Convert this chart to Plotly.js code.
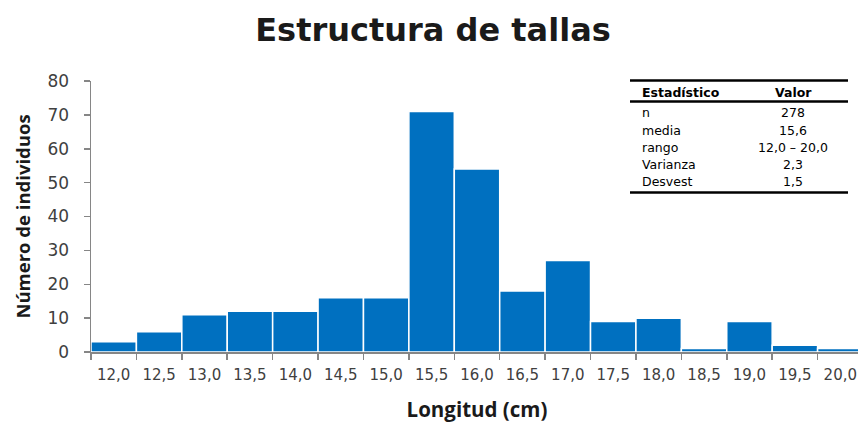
<!DOCTYPE html>
<html>
<head>
<meta charset="utf-8">
<script src="https://cdn.plot.ly/plotly-3.0.1.min.js"></script>
<style>
html,body{margin:0;padding:0;overflow:hidden;background:#fff;}
#chart{width:866px;height:423px;}
</style>
</head>
<body>
<div id="chart"></div>
<script>
// Data
var lengthClasses = ["12,0","12,5","13,0","13,5","14,0","14,5","15,0","15,5","16,0","16,5","17,0","17,5","18,0","18,5","19,0","19,5","20,0"];
var counts = [3, 6, 11, 12, 12, 16, 16, 71, 54, 18, 27, 9, 10, 1, 9, 2, 1];
var statHeaders = ["Estadístico", "Valor"];
var statNames = ["n", "media", "rango", "Varianza", "Desvest"];
var statValues = ["278", "15,6", "12,0 – 20,0", "2,3", "1,5"];

var W = 866, H = 423;
var mL = 91, mR = 3, mT = 81, mB = 71;
var plotW = W - mL - mR, plotH = H - mT - mB;
function px(x){ return (x - mL) / plotW; }
function py(y){ return (H - mB - y) / plotH; }

var tableFont = {family: "DejaVu Sans, sans-serif", size: 12.5, color: "#000"};
var annotations = [];
var shapes = [];
var tX0 = 630, tX1 = 848, col1X = 641, col2X = 793;
var headerY = 92, rowY0 = 113, rowStep = 17;

function addCell(x, y, anchor, txt) {
  annotations.push({xref:"paper", yref:"paper", x:px(x), y:py(y), xanchor:anchor, yanchor:"middle",
    text:txt, showarrow:false, font:tableFont, borderpad:0});
}
addCell(col1X, headerY, "left", "<b>"+statHeaders[0]+"</b>");
addCell(col2X, headerY, "center", "<b>"+statHeaders[1]+"</b>");
for (var i = 0; i < statNames.length; i++) {
  var yy = rowY0 + i * rowStep;
  addCell(col1X, yy, "left", statNames[i]);
  addCell(col2X, yy, "center", statValues[i]);
}
[80.5, 101.5, 192.5].forEach(function(ly){
  shapes.push({type:"line", xref:"paper", yref:"paper", x0:px(tX0), x1:px(tX1), y0:py(ly), y1:py(ly),
    line:{color:"#000", width:2.6}});
});

var trace = {
  type: "bar",
  x: lengthClasses,
  y: counts,
  marker: {color: "#0070C0", line: {color: "#ffffff", width: 1.5}},
  hoverinfo: "x+y"
};

var layout = {
  width: W, height: H,
  margin: {l: mL, r: mR, t: mT, b: mB, pad: 0},
  paper_bgcolor: "#fff", plot_bgcolor: "#fff",
  bargap: 0,
  showlegend: false,
  title: {text: "<b>Estructura de tallas</b>", x: 0.5, xref: "container", xanchor: "center",
    y: 1 - 30/H, yref: "container", yanchor: "middle",
    font: {family: "DejaVu Sans, sans-serif", size: 32, color: "#1a1a1a"}},
  xaxis: {
    type: "category",
    showline: true, linecolor: "#868686", linewidth: 1.5,
    ticks: "outside", tickson: "boundaries", ticklen: 6, tickcolor: "#868686", tickwidth: 1.5,
    tickfont: {family: "DejaVu Sans, sans-serif", size: 15, color: "#404040"},
    ticklabelstandoff: 8,
    showgrid: false, zeroline: false,
    title: {text: "<b>Longitud (cm)</b>", standoff: 23,
      font: {family: "Open Sans, sans-serif", size: 20.5, color: "#1a1a1a"}}
  },
  yaxis: {
    range: [0, 80], dtick: 10,
    showline: true, linecolor: "#868686", linewidth: 1.5,
    ticks: "outside", ticklen: 6, tickcolor: "#868686", tickwidth: 1.5,
    tickfont: {family: "DejaVu Sans, sans-serif", size: 17, color: "#404040"},
    ticklabelstandoff: 11,
    showgrid: false, zeroline: false,
    title: {text: "<b>Número de individuos</b>", standoff: 12,
      font: {family: "Open Sans, sans-serif", size: 18.5, color: "#1a1a1a"}}
  },
  annotations: annotations,
  shapes: shapes
};

Plotly.newPlot("chart", [trace], layout, {displayModeBar: false, staticPlot: true});
</script>
</body>
</html>
